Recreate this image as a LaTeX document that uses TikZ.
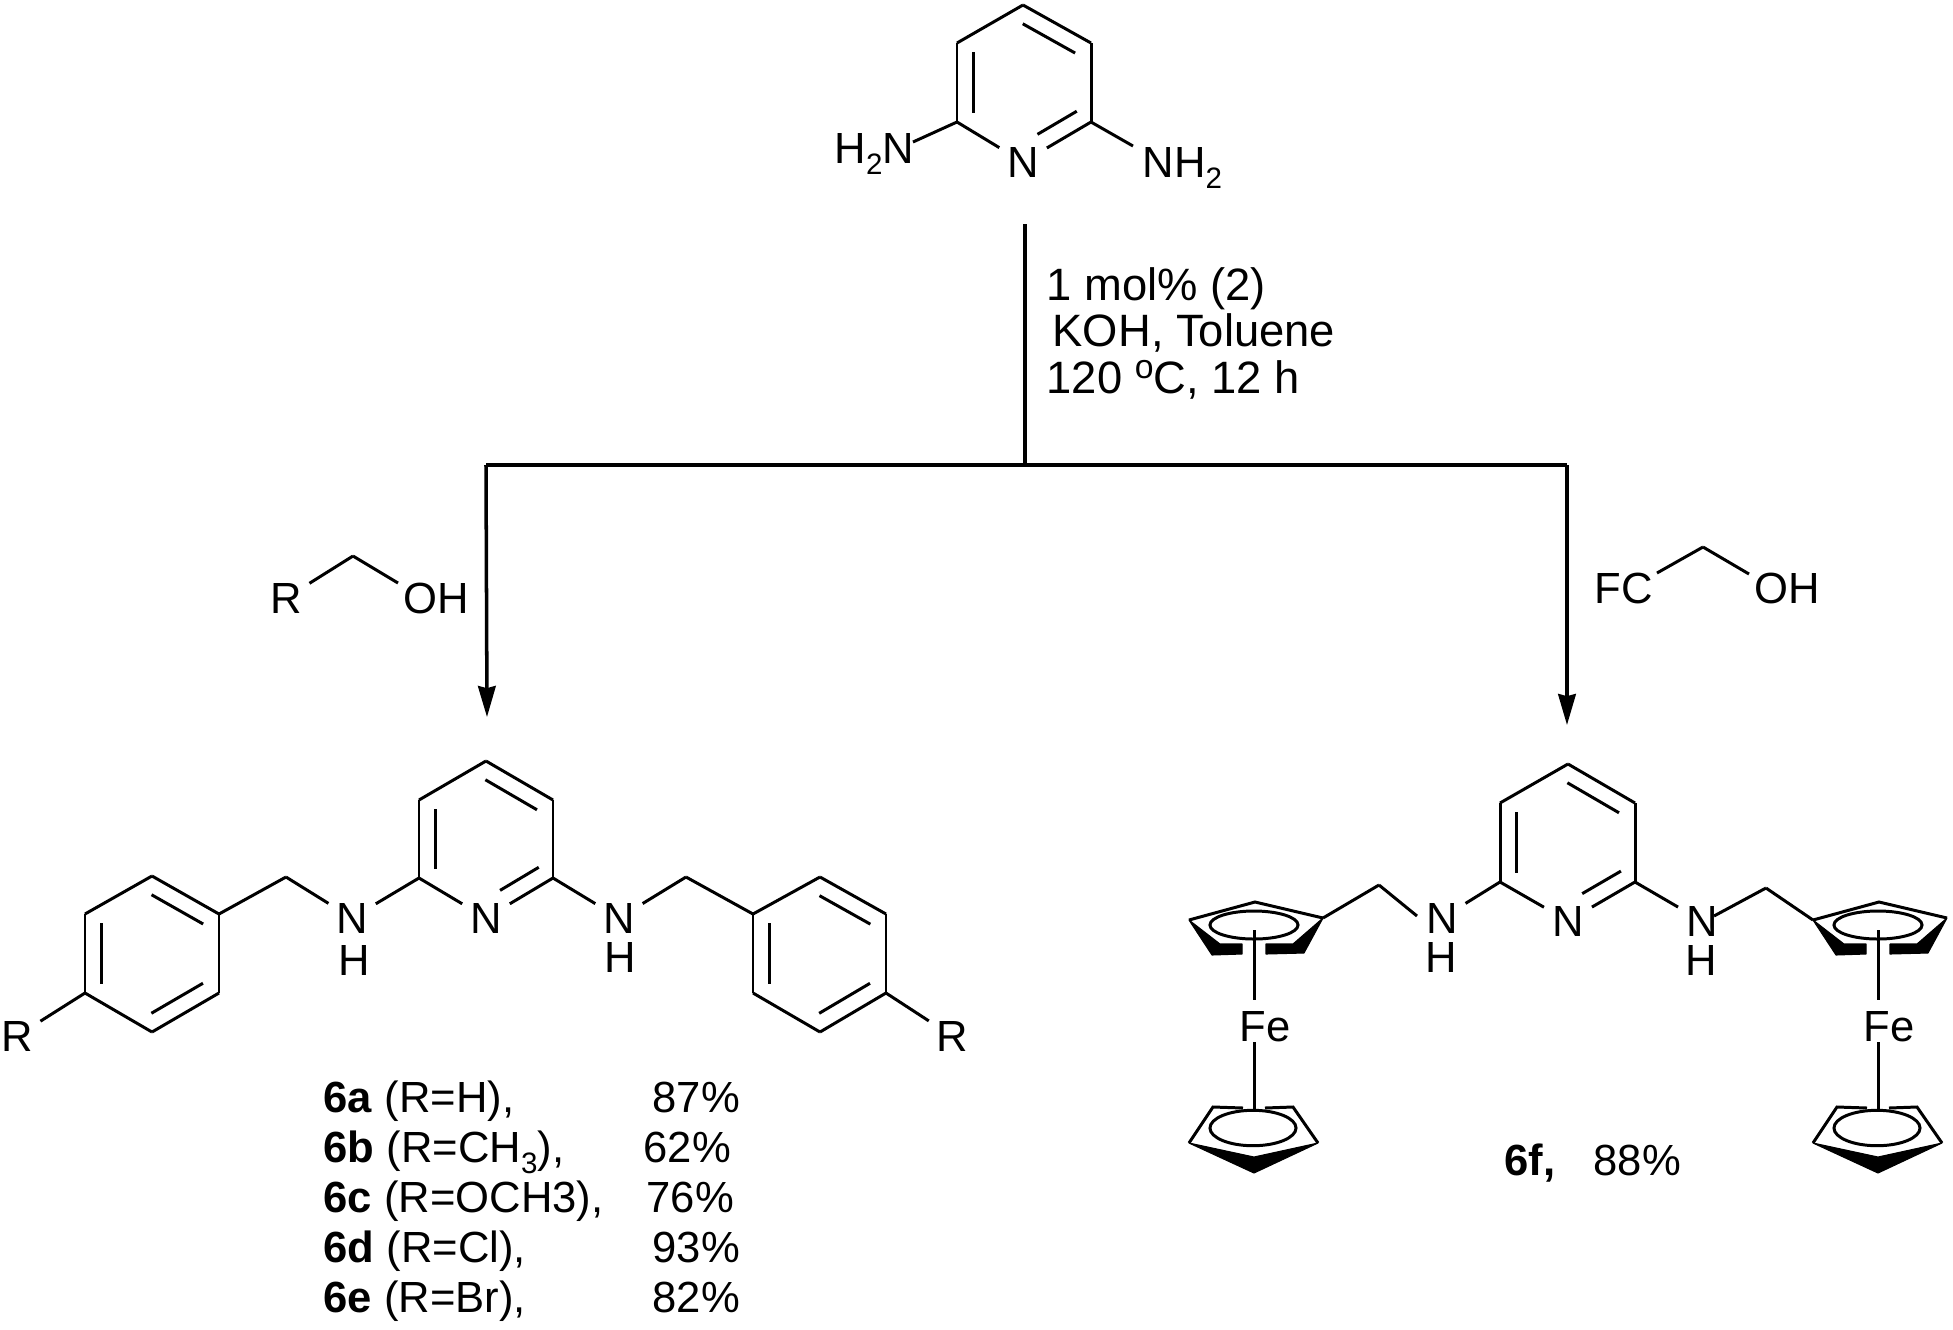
\documentclass[tikz,border=0pt]{standalone}
\usepackage{fontspec}
\setmainfont{Liberation Sans}
\usetikzlibrary{calc,arrows.meta}

\newcommand{\subnum}[1]{\raisebox{-3.2pt}{\fontsize{8.4pt}{8.4pt}\selectfont #1}}
\newcommand{\dego}{\raisebox{4pt}{\fontsize{9.6pt}{9.6pt}\selectfont o}}

\begin{document}
\begin{tikzpicture}
	[x=.01cm,y=-.01cm,every node/.style={inner sep=0pt,font=\fontsize{12.4pt}{15pt}\selectfont},
	atom/.style={circle,minimum size=.54cm},
	lbl/.style={anchor=base west},
	condtext/.style={lbl,font=\fontsize{12.9pt}{15pt}\selectfont},
	bond/.style={line width=.85pt},
	rxn/.style={line width=1pt},
	rxnarrow/.style={rxn,-{Stealth[length=8.8pt,width=5pt,inset=.6pt]}},
	wedge/.style={fill=black,draw=black,line width=.3pt,line join=round}]
	\useasboundingbox (0,0) rectangle (1953,1329);

	% ring corners
	\foreach \cName/\cX/\cY in {
		a1/1023/5,a2/1091/43,a3/1091/122,a4/957/122,a5/957/43,
		b1/486/761,b2/553/800,b3/553/878,b4/419/878,b5/419/800,
		d1/1568/764,d2/1635/803,d3/1635/882,d4/1500/882,d5/1500/803,
		l1/152/876,l2/219/914,l3/219/993,l4/152/1032,l5/85/993,l6/85/914,
		r1/820/877,r2/886/914,r3/886/993,r4/820/1032,r5/753/993,r6/753/914}
	{
		\coordinate (\cName) at (\cX,\cY);
	}
	% chain carbons and free bond ends
	\foreach \cName/\cX/\cY in {
		chL/286/877,chR/686/877,chF/1379/885,chG/1766/888,
		endF/1417/916,endG/1714/916,endH/913/142,endN/1133/146,
		rohC/353/556,rohE/398/583,
		fohA/1657/573,fohC/1703/547,fohE/1749/574,
		startRx/1025/224,midRx/1025/465,leftRx/486/465,rightRx/1567/465,
		tipL/487/717,tipR/1567/725}
	{
		\coordinate (\cName) at (\cX,\cY);
	}

	% atoms
	\node[atom] (na) at (1023,162) {N};
	\node[atom] (nb) at (486,918) {N};
	\node[atom] (nd) at (1568,921) {N};
	\node[atom] (nhL) at (352,918) {N};
	\node[atom] (nhR) at (619,918) {N};
	\node[atom] (nhF) at (1442,918) {N};
	\node[atom] (nhG) at (1702,921) {N};
	\node[atom] (rL) at (17,1036) {R};
	\node[atom] (rR) at (952,1036) {R};
	\node[atom] (rA) at (286,598) {R};
	\node[lbl] (hL) at (338,975) {H};
	\node[lbl] (hR) at (604,972) {H};
	\node[lbl] (hF) at (1425,972) {H};
	\node[lbl] (hG) at (1685,975) {H};
	\node[lbl] (h2n) at (834,163) {H\subnum{2}N};
	\node[lbl] (nh2) at (1142,177) {NH\subnum{2}};
	\node[lbl] (ohA) at (403,613) {OH};
	\node[lbl] (fc) at (1594,603) {FC};
	\node[lbl] (ohB) at (1754,603) {OH};

	% conditions and yields
	\node[condtext] (cond1) at (1046,300) {1 mol\% (2)};
	\node[condtext] (cond2) at (1052,346) {KOH, Toluene};
	\node[condtext] (cond3) at (1046,393) {120 \dego C, 12 h};
	\node[lbl] (name6a) at (323,1112) {\textbf{6a} (R=H),};
	\node[lbl] (name6b) at (323,1162) {\textbf{6b} (R=CH\subnum{3}),};
	\node[lbl] (name6c) at (323,1212) {\textbf{6c} (R=OCH3),};
	\node[lbl] (name6d) at (323,1262) {\textbf{6d} (R=Cl),};
	\node[lbl] (name6e) at (323,1312) {\textbf{6e} (R=Br),};
	\node[lbl] (yield6a) at (652,1112) {87\%};
	\node[lbl] (yield6b) at (643,1162) {62\%};
	\node[lbl] (yield6c) at (646,1212) {76\%};
	\node[lbl] (yield6d) at (652,1262) {93\%};
	\node[lbl] (yield6e) at (652,1312) {82\%};
	\node[lbl] (name6f) at (1504,1175) {\textbf{6f,}};
	\node[lbl] (yield6f) at (1593,1175) {88\%};

	% two ferrocenes
	\foreach \fcName/\fcShift in {fa/0,fb/624}
	{
		\begin{scope}[shift={(\fcShift,0)}]
			\coordinate (\fcName-L) at (1189,920);
			\coordinate (\fcName-R) at (1323,918);
			\coordinate (\fcName-up) at (1254,930);
			\coordinate (\fcName-fe1) at (1254,1000);
			\coordinate (\fcName-fe2) at (1254,1042);
			\coordinate (\fcName-low) at (1254,1110);
			\node[lbl] (\fcName-fe) at (1239,1041) {Fe};
			\draw[bond] (\fcName-L) -- (1255,902) -- (\fcName-R);
			\fill[wedge] (\fcName-L) -- (1212,955) -- (1242,954) -- (1242,944) -- (1220,944) -- cycle;
			\fill[wedge] (\fcName-R) -- (1304,953) -- (1266,954) -- (1266,944) -- (1293,944) -- cycle;
			\draw[bond] (1254,925) ellipse [x radius=.44cm,y radius=.14cm];
			\draw[bond] (\fcName-up) -- (\fcName-fe1);
			\draw[bond] (\fcName-fe2) -- (\fcName-low);
			\draw[bond] (1243,1108) -- (1213,1107) -- (1189,1143);
			\draw[bond] (1265,1108) -- (1293,1107) -- (1318,1143);
			\fill[wedge] (1189,1143) -- (1254,1173) -- (1318,1143) -- (1254,1157) -- cycle;
			\draw[bond] (1253,1128) ellipse [x radius=.43cm,y radius=.177cm];
		\end{scope}
	}

	% single bonds
	\path
	\foreach \startNode/\endNode in {a1/a2,a2/a3,a3/na,na/a4,a4/a5,a5/a1,a4/endH,a3/endN,
		b1/b2,b2/b3,b3/nb,nb/b4,b4/b5,b5/b1,b4/nhL,nhL/chL,chL/l2,b3/nhR,nhR/chR,chR/r6,
		d1/d2,d2/d3,d3/nd,nd/d4,d4/d5,d5/d1,d4/nhF,endF/chF,chF/fa-R,d3/nhG,endG/chG,chG/fb-L,
		l1/l2,l2/l3,l3/l4,l4/l5,l5/l6,l6/l1,l5/rL,
		r1/r2,r2/r3,r3/r4,r4/r5,r5/r6,r6/r1,r3/rR,
		rA/rohC,rohC/rohE,fohA/fohC,fohC/fohE}
	{
		(\startNode) edge[bond] (\endNode)
	};

	% inner lines of the double bonds, going round each ring clockwise
	\coordinate (a3s) at ($(a3)!.75!(na)$);
	\coordinate (b3s) at ($(b3)!.75!(nb)$);
	\coordinate (d3s) at ($(d3)!.75!(nd)$);
	\foreach \startNode/\endNode in {a1/a2,a4/a5,a3/a3s,b1/b2,b4/b5,b3/b3s,d1/d2,d4/d5,d3/d3s,
		l1/l2,l3/l4,l5/l6,r1/r2,r3/r4,r5/r6}
	{
		\draw[bond] ($(\startNode)!.115!(\endNode)!.165cm!-90:(\endNode)$)
			-- ($(\endNode)!.115!(\startNode)!.165cm!90:(\startNode)$);
	}

	% reaction lines
	\draw[rxn] (startRx) -- (midRx);
	\draw[rxn] (leftRx) -- (rightRx);
	\draw[rxnarrow] (leftRx) -- (tipL);
	\draw[rxnarrow] (rightRx) -- (tipR);
\end{tikzpicture}
\end{document}
